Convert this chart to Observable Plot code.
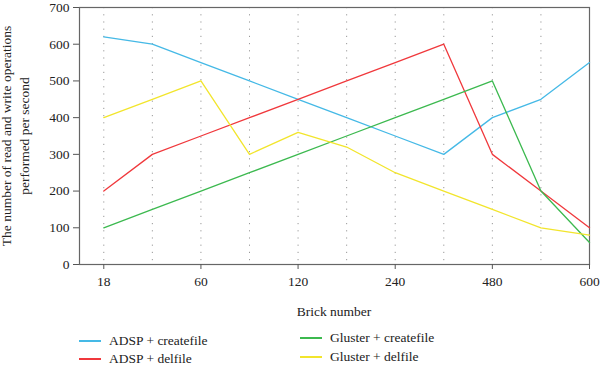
<!DOCTYPE html>
<html>
<head>
<meta charset="utf-8">
<script src="https://cdn.jsdelivr.net/npm/d3@7"></script>
<script src="https://cdn.jsdelivr.net/npm/@observablehq/plot@0.6"></script>
<style>
  html, body { margin: 0; padding: 0; background: #fff; }
  #wrap { position: relative; width: 600px; height: 368px; font-family: "Liberation Serif", "DejaVu Serif", serif; color: #222; }
  #chart { position: absolute; left: 0; top: 0; }
  .ylab { position: absolute; left: 16px; top: 135.5px; transform: translate(-50%, -50%) rotate(-90deg); text-align: center; white-space: nowrap; font-size: 13.5px; line-height: 18px; }
  .xlab { position: absolute; left: 334px; top: 312px; transform: translate(-50%, -50%); font-size: 13.5px; white-space: nowrap; }
  .leg { position: absolute; font-size: 13.5px; white-space: nowrap; display: flex; align-items: center; }
  .leg .sw { display: inline-block; width: 22px; height: 1.5px; margin-right: 8px; }
</style>
</head>
<body>
<div id="wrap">
  <div id="chart"></div>
</div>
<script>
// Categories along the x axis (blank = unlabeled position)
const brickLabels = ["18", "", "60", "", "120", "", "240", "", "480", "", "600"];
const series = ["ADSP + createfile", "ADSP + delfile", "Gluster + createfile", "Gluster + delfile"];
const colors = ["#45b9e6", "#f0383c", "#3cb94f", "#f2e52c"];
const adspCreate = [620, 600, 550, 500, 450, 400, 350, 300, 400, 450, 550];
const adspDel = [200, 300, 350, 400, 450, 500, 550, 600, 300, 200, 100];
const glusterCreate = [100, 150, 200, 250, 300, 350, 400, 450, 500, 200, 60];
const glusterDel = [400, 450, 500, 300, 360, 320, 250, 200, 150, 100, 80];
const yTicks = [0, 100, 200, 300, 400, 500, 600, 700];
const yTitle = ["The number of read and write operations", "performed per second"];
const xTitle = "Brick number";

const allValues = [adspCreate, adspDel, glusterCreate, glusterDel];
const data = [];
allValues.forEach((vals, s) => vals.forEach((v, i) => data.push({i, v, s: series[s]})));
const idx = brickLabels.map((_, i) => i);
const labeled = idx.filter(i => brickLabels[i] !== "");

const plot = Plot.plot({
  width: 600,
  height: 290,
  marginLeft: 79,
  marginRight: 11,
  marginTop: 7,
  marginBottom: 26,
  style: { fontFamily: "Liberation Serif, DejaVu Serif, serif", fontSize: "13.5px", color: "#222", background: "#fff" },
  x: { type: "linear", domain: [-0.5, brickLabels.length - 1] },
  y: { domain: [0, 700] },
  color: { domain: series, range: colors },
  marks: [
    Plot.ruleX(idx, { stroke: "#999", strokeDasharray: "1.2,6", strokeWidth: 1 }),
    Plot.frame({ stroke: "#666", strokeWidth: 1.2 }),
    Plot.axisX({ ticks: labeled, tickFormat: i => brickLabels[i], tickSize: 5, tickPadding: 7, label: null, stroke: "#555", fill: "#222" }),
    Plot.axisY({ ticks: yTicks, tickSize: 6, tickPadding: 4, label: null, stroke: "#555", fill: "#222" }),
    Plot.line(data, { x: "i", y: "v", z: "s", stroke: "s", strokeWidth: 1.3 })
  ]
});
document.getElementById("chart").appendChild(plot);

const wrap = document.getElementById("wrap");
const yl = document.createElement("div");
yl.className = "ylab";
yl.innerHTML = yTitle.join("<br>");
wrap.appendChild(yl);
const xl = document.createElement("div");
xl.className = "xlab";
xl.textContent = xTitle;
wrap.appendChild(xl);

const legPos = [[79, 341], [79, 359], [300, 338], [300, 357]];
series.forEach((name, k) => {
  const d = document.createElement("div");
  d.className = "leg";
  d.style.left = legPos[k][0] + "px";
  d.style.top = legPos[k][1] + "px";
  d.style.transform = "translateY(-50%)";
  const sw = document.createElement("span");
  sw.className = "sw";
  sw.style.background = colors[k];
  const t = document.createElement("span");
  t.textContent = name;
  d.appendChild(sw);
  d.appendChild(t);
  wrap.appendChild(d);
});
</script>
</body>
</html>
